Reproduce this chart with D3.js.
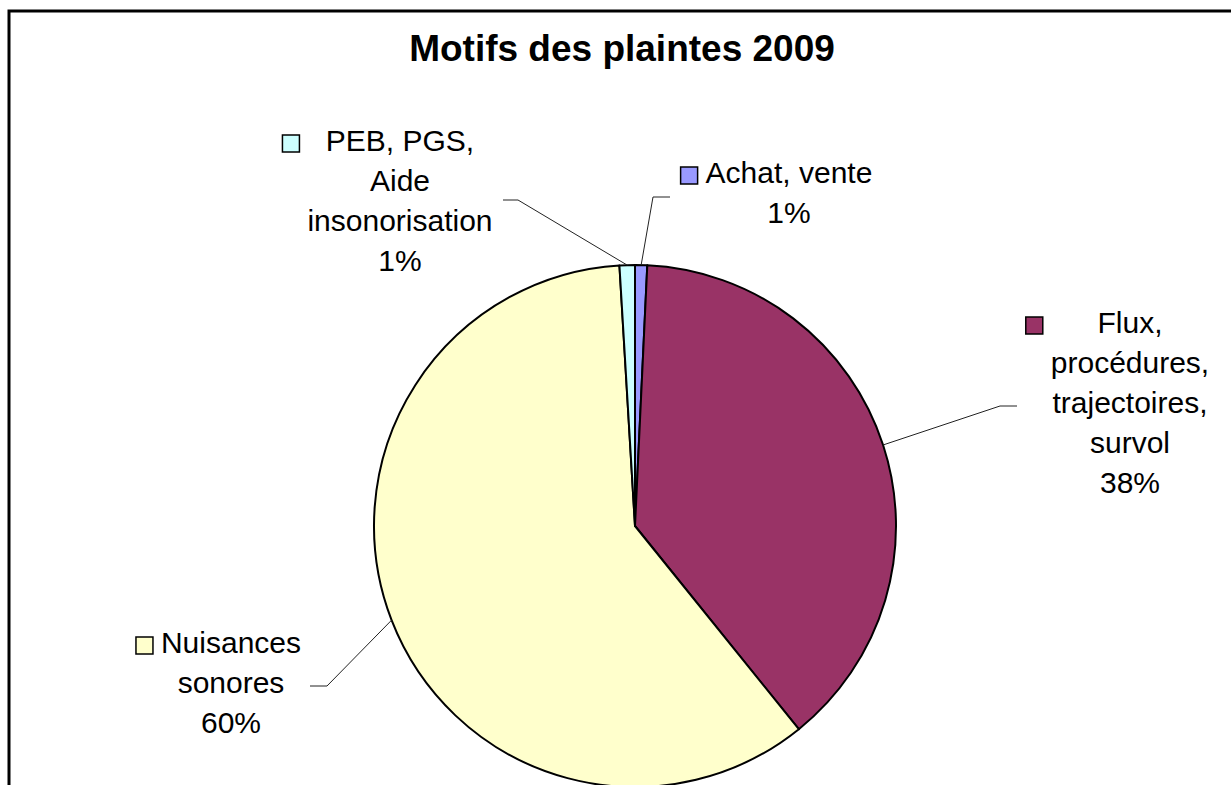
<!DOCTYPE html>
<html>
<head>
<meta charset="utf-8">
<script src="https://cdn.jsdelivr.net/npm/d3@7"></script>
<style>
  body { margin: 0; background: #fff; }
  text { font-family: "Liberation Sans", Arial, sans-serif; fill: #000; }
</style>
</head>
<body>
<div id="chart-area"></div>
<script>
// data, in drawing order (clockwise from 12 o'clock)
const categories = ["Achat, vente", "Flux, procédures, trajectoires, survol", "Nuisances sonores", "PEB, PGS, Aide insonorisation"]
const values = [0.75, 38.45, 59.85, 0.95]
const labelLines = [
  ["Achat, vente"],
  ["Flux,", "procédures,", "trajectoires,", "survol"],
  ["Nuisances", "sonores"],
  ["PEB, PGS,", "Aide", "insonorisation"]
]
const colors = ["#9999FF", "#993366", "#FFFFCC", "#CCFFFF"]

const WIDTH = 1231
const HEIGHT = 785
const CX = 635, CY = 526, R = 261
const LINE_H = 40

// label layout: text column centre, first baseline, leader start and elbow
const labelPos = [
  { x: 789, y: 183, lx: 670, ly: 197, ex: 653 },
  { x: 1130, y: 333, lx: 1017, ly: 406, ex: 1000 },
  { x: 231, y: 653, lx: 310, ly: 686, ex: 327 },
  { x: 400, y: 151, lx: 503, ly: 200, ex: 518 }
]

const svg = d3.select("#chart-area").append("svg")
  .attr("width", WIDTH)
  .attr("height", HEIGHT)

// outer frame (runs off the right and bottom edges)
svg.append("rect")
  .attr("x", 9).attr("y", 11)
  .attr("width", WIDTH + 20).attr("height", HEIGHT + 20)
  .attr("fill", "#fff")
  .attr("stroke", "#000")
  .attr("stroke-width", 3)

// title
svg.append("text")
  .attr("x", 622)
  .attr("y", 61)
  .attr("text-anchor", "middle")
  .attr("font-size", "37px")
  .attr("font-weight", "bold")
  .text("Motifs des plaintes 2009")

const total = d3.sum(values)
const pie = d3.pie().sort(null).value(d => d)
const arcs = pie(values)
const arc = d3.arc().innerRadius(0).outerRadius(R)

const g = svg.append("g")
  .attr("transform", `translate(${CX}, ${CY})`)

g.selectAll("path.slice")
  .data(arcs)
  .enter().append("path")
  .attr("class", "slice")
  .attr("d", arc)
  .attr("fill", (d, i) => colors[i])
  .attr("stroke", "#000")
  .attr("stroke-width", 2)
  .attr("stroke-linejoin", "round")

// leader lines
arcs.forEach((d, i) => {
  const a = (d.startAngle + d.endAngle) / 2
  const px = CX + R * Math.sin(a)
  const py = CY - R * Math.cos(a)
  const p = labelPos[i]
  svg.append("polyline")
    .attr("points", `${p.lx},${p.ly} ${p.ex},${p.ly} ${px},${py}`)
    .attr("fill", "none")
    .attr("stroke", "#222")
    .attr("stroke-width", 1)
})

// labels with legend key
arcs.forEach((d, i) => {
  const p = labelPos[i]
  const pct = Math.round(d.value / total * 100) + "%"
  const lines = labelLines[i].concat([pct])
  const lg = svg.append("g")
  const texts = lg.selectAll("text")
    .data(lines)
    .enter().append("text")
    .attr("x", p.x)
    .attr("y", (t, j) => p.y + j * LINE_H)
    .attr("text-anchor", "middle")
    .attr("font-size", "30px")
    .text(t => t)
  let maxW = 0
  texts.each(function() { maxW = Math.max(maxW, this.getComputedTextLength()) })
  const colLeft = p.x - maxW / 2
  lg.append("rect")
    .attr("x", colLeft - 8 - 17)
    .attr("y", p.y - 16)
    .attr("width", 17)
    .attr("height", 17)
    .attr("fill", colors[i])
    .attr("stroke", "#000")
    .attr("stroke-width", 1.5)
})
</script>
</body>
</html>
